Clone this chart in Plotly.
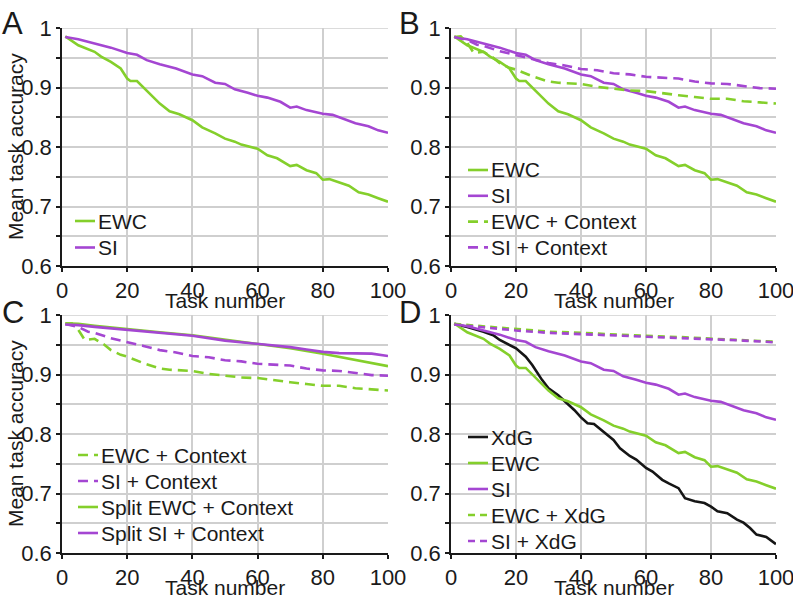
import plotly.graph_objects as go

# ---------------- data ----------------
x_ewc = [1, 5, 10, 12, 15, 18, 20, 21, 23, 25, 30, 33, 36, 40, 43, 47, 50, 53, 55, 60,
         63, 66, 70, 72, 75, 78, 80, 82, 85, 88, 91, 94, 97, 100]
ewc = [0.986, 0.971, 0.960, 0.952, 0.943, 0.932, 0.915, 0.911, 0.911, 0.900, 0.873, 0.860,
       0.855, 0.845, 0.833, 0.823, 0.814, 0.809, 0.804, 0.797, 0.786, 0.781, 0.768, 0.770,
       0.761, 0.756, 0.745, 0.746, 0.740, 0.735, 0.724, 0.720, 0.714, 0.708]

x_si = [1, 5, 10, 15, 20, 23, 26, 30, 35, 40, 43, 47, 50, 53, 57, 60, 63, 67, 70, 72, 75,
        80, 83, 87, 90, 94, 97, 100]
si = [0.985, 0.981, 0.974, 0.967, 0.958, 0.955, 0.946, 0.939, 0.932, 0.922, 0.919, 0.908,
      0.906, 0.897, 0.891, 0.886, 0.883, 0.876, 0.866, 0.868, 0.862, 0.856, 0.854, 0.846,
      0.840, 0.835, 0.828, 0.824]

x_ewc_ctx = [1, 3, 5, 7, 10, 13, 15, 18, 20, 25, 30, 33, 40, 45, 50, 55, 60, 65, 70, 75,
             80, 85, 90, 95, 100]
ewc_ctx = [0.985, 0.986, 0.975, 0.958, 0.960, 0.950, 0.941, 0.933, 0.930, 0.919, 0.910,
           0.908, 0.906, 0.901, 0.898, 0.895, 0.894, 0.890, 0.887, 0.884, 0.881, 0.881,
           0.877, 0.875, 0.873]

x_si_ctx = [1, 5, 8, 10, 15, 20, 25, 30, 35, 40, 45, 50, 55, 60, 65, 70, 75, 80, 85, 90,
            95, 100]
si_ctx = [0.985, 0.980, 0.972, 0.970, 0.961, 0.955, 0.948, 0.941, 0.937, 0.931, 0.929,
          0.924, 0.922, 0.918, 0.917, 0.915, 0.910, 0.907, 0.906, 0.903, 0.899, 0.898]

x_split_ewc = [1, 5, 10, 20, 30, 40, 50, 60, 70, 80, 90, 100]
split_ewc = [0.986, 0.985, 0.982, 0.976, 0.971, 0.966, 0.959, 0.952, 0.944, 0.935, 0.924,
             0.914]

x_split_si = [1, 5, 10, 20, 30, 40, 50, 60, 70, 75, 80, 85, 90, 95, 100]
split_si = [0.984, 0.983, 0.980, 0.975, 0.970, 0.965, 0.957, 0.952, 0.946, 0.942, 0.938,
            0.936, 0.935, 0.935, 0.931]

x_xdg = [1, 5, 10, 13, 15, 18, 20, 23, 25, 28, 30, 33, 35, 38, 40, 42, 44, 47, 48, 50, 52,
         55, 57, 60, 62, 65, 67, 70, 72, 75, 78, 80, 82, 85, 88, 90, 92, 94, 97, 100]
xdg = [0.985, 0.980, 0.972, 0.966, 0.958, 0.950, 0.944, 0.930, 0.916, 0.891, 0.877, 0.865,
       0.855, 0.840, 0.828, 0.818, 0.817, 0.804, 0.800, 0.790, 0.776, 0.763, 0.757, 0.743,
       0.737, 0.723, 0.717, 0.709, 0.692, 0.687, 0.684, 0.678, 0.670, 0.667, 0.656, 0.651,
       0.642, 0.631, 0.627, 0.615]

x_xdg_comb = [1, 10, 20, 30, 40, 50, 60, 70, 80, 90, 100]
ewc_xdg = [0.985, 0.981, 0.977, 0.972, 0.970, 0.967, 0.965, 0.963, 0.960, 0.958, 0.955]
si_xdg = [0.984, 0.979, 0.974, 0.970, 0.968, 0.966, 0.964, 0.962, 0.959, 0.957, 0.954]

x_ticks = [0, 20, 40, 60, 80, 100]
y_ticks = [0.6, 0.65, 0.7, 0.75, 0.8, 0.85, 0.9, 0.95, 1.0]
y_ticktext = ["0.6", "", "0.7", "", "0.8", "", "0.9", "", "1"]
panel_letters = ["A", "B", "C", "D"]
x_title = "Task number"
y_title = "Mean task accuracy"

# ---------------- styling ----------------
GREEN = "#84cf2b"
PURPLE = "#a446d2"
BLACK = "#151515"
TXT = "#1a1a1a"
LW = 2.6
FONT = "Liberation Sans, Arial, sans-serif"
W, H = 793, 601
DASH = "10px,6px"
DASH_D = "7px,5px"

# panel -> list of series (legend order)
panels = {
    1: [(x_ewc, ewc, "EWC", GREEN, "solid"),
        (x_si, si, "SI", PURPLE, "solid")],
    2: [(x_ewc, ewc, "EWC", GREEN, "solid"),
        (x_si, si, "SI", PURPLE, "solid"),
        (x_ewc_ctx, ewc_ctx, "EWC + Context", GREEN, DASH),
        (x_si_ctx, si_ctx, "SI + Context", PURPLE, DASH)],
    3: [(x_ewc_ctx, ewc_ctx, "EWC + Context", GREEN, DASH),
        (x_si_ctx, si_ctx, "SI + Context", PURPLE, DASH),
        (x_split_ewc, split_ewc, "Split EWC + Context", GREEN, "solid"),
        (x_split_si, split_si, "Split SI + Context", PURPLE, "solid")],
    4: [(x_xdg, xdg, "XdG", BLACK, "solid"),
        (x_ewc, ewc, "EWC", GREEN, "solid"),
        (x_si, si, "SI", PURPLE, "solid"),
        (x_xdg_comb, ewc_xdg, "EWC + XdG", GREEN, DASH_D),
        (x_xdg_comb, si_xdg, "SI + XdG", PURPLE, DASH_D)],
}

# pixel geometry
px_x = {1: (62, 388), 2: (451, 776), 3: (62, 388), 4: (451, 776)}
px_y = {1: (28, 266), 2: (28, 266), 3: (315, 553), 4: (315, 553)}
letter_pos = {1: (0, 4), 2: (397, 4), 3: (0, 293), 4: (397, 293)}
# legend: (line-left px, first row centre px, row step, white box [x0,y0,x1,y1])
legend_geo = {
    1: (75, 221, 26.5, (66, 207, 150, 264)),
    2: (468, 170, 25.8, (455, 155, 645, 264)),
    3: (78, 455, 26.0, (66, 436, 302, 551)),
    4: (468, 437, 26.0, (455, 423, 612, 551)),
}


def px2paper(x, y):
    return x / W, 1 - y / H


fig = go.Figure()
shapes, annotations = [], []

for p, series in panels.items():
    xs = "" if p == 1 else str(p)
    for (xv, yv, name, color, dash) in series:
        fig.add_trace(go.Scatter(
            x=xv, y=yv, name=name, mode="lines", showlegend=False,
            line=dict(color=color, width=LW, dash=dash),
            xaxis=f"x{xs}", yaxis=f"y{xs}",
        ))

layout = dict(
    template="none",
    width=W, height=H,
    margin=dict(l=0, r=0, t=0, b=0),
    paper_bgcolor="white", plot_bgcolor="white",
    font=dict(family=FONT, size=20, color=TXT),
    showlegend=False,
)

for p in range(1, 5):
    xs = "" if p == 1 else str(p)
    x0, x1 = px_x[p]
    y0, y1 = px_y[p]
    common = dict(ticks="outside", ticklen=4, tickwidth=1.5, tickcolor=TXT,
                  showline=True, linecolor=TXT, linewidth=1.6, automargin=False,
                  showgrid=True, gridcolor="#cfcfcf", gridwidth=1.6, zeroline=False,
                  ticklabeloverflow="allow",
                  tickfont=dict(size=22, color=TXT, family=FONT))
    layout[f"xaxis{xs}"] = dict(domain=[x0 / W, x1 / W], anchor=f"y{xs}", range=[0, 100],
                                tickvals=x_ticks, **common)
    layout[f"yaxis{xs}"] = dict(domain=[1 - y1 / H, 1 - y0 / H], anchor=f"x{xs}",
                                range=[0.6, 1.0], tickvals=y_ticks, ticktext=y_ticktext,
                                **common)
    # top gridline at 1.0
    shapes.append(dict(type="line", xref=f"x{xs} domain", yref=f"y{xs}", x0=0, x1=1,
                       y0=1.0, y1=1.0, line=dict(color="#cfcfcf", width=1.6),
                       layer="below"))
    # axis titles
    cx, _ = px2paper((x0 + x1) / 2, 0)
    _, ty = px2paper(0, y1 + 34)
    annotations.append(dict(text=x_title, xref="paper", yref="paper", x=cx, y=ty,
                            xanchor="center", yanchor="middle", showarrow=False,
                            font=dict(size=21, color=TXT)))
    if p in (1, 3):
        _, cy = px2paper(0, (y0 + y1) / 2)
        annotations.append(dict(text=y_title, xref="paper", yref="paper", x=15 / W, y=cy,
                                xanchor="center", yanchor="middle", textangle=-90,
                                showarrow=False, font=dict(size=21, color=TXT)))
    # panel letter
    lx, ly = px2paper(*letter_pos[p])
    annotations.append(dict(text=panel_letters[p - 1], xref="paper", yref="paper",
                            x=lx, y=ly, xanchor="left", yanchor="top", showarrow=False,
                            font=dict(size=31, color=TXT)))
    # legend (box, keys, labels)
    llx, ly0, step, box = legend_geo[p]
    bx0, by0 = px2paper(box[0], box[1])
    bx1, by1 = px2paper(box[2], box[3])
    shapes.append(dict(type="rect", xref="paper", yref="paper", x0=bx0, y0=by1,
                       x1=bx1, y1=by0, fillcolor="white", line=dict(width=0),
                       layer="between"))
    for i, (_, _, name, color, dash) in enumerate(panels[p]):
        yy = ly0 + i * step
        ax0, ay = px2paper(llx, yy)
        ax1, _ = px2paper(llx + 20, yy)
        shapes.append(dict(type="line", xref="paper", yref="paper", x0=ax0, x1=ax1,
                           y0=ay, y1=ay, line=dict(color=color, width=LW, dash=dash),
                           layer="above"))
        tx, _ = px2paper(llx + 21, yy)
        annotations.append(dict(text=name, xref="paper", yref="paper", x=tx, y=ay,
                                xanchor="left", yanchor="middle", showarrow=False,
                                font=dict(size=21, color=TXT)))

layout["shapes"] = shapes
layout["annotations"] = annotations
fig.update_layout(**layout)
fig.write_html(
    "out.html",
    config={"displayModeBar": False},
    post_script="document.body.style.margin='0';document.body.style.padding='0';"
                "document.documentElement.style.margin='0';",
)
